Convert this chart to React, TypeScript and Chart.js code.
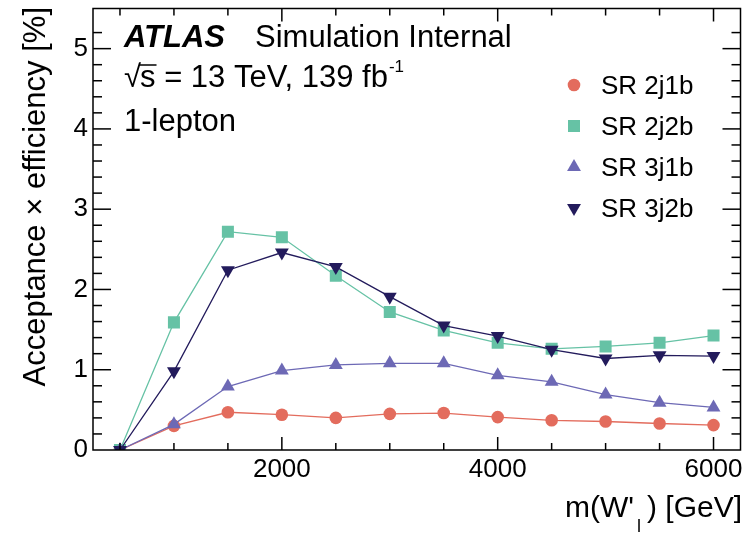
import React, { useEffect, useRef } from "react";
import { Chart, registerables } from "chart.js";

Chart.register(...registerables);

const masses = [500, 1000, 1500, 2000, 2500, 3000, 3500, 4000, 4500, 5000, 5500, 6000];
const sr2j1b = [0.0, 0.3, 0.47, 0.44, 0.4, 0.45, 0.46, 0.41, 0.37, 0.355, 0.33, 0.31];
const sr2j2b = [0.0, 1.59, 2.72, 2.65, 2.17, 1.72, 1.49, 1.335, 1.26, 1.29, 1.335, 1.425];
const sr3j1b = [0.0, 0.32, 0.79, 0.99, 1.06, 1.08, 1.08, 0.93, 0.85, 0.69, 0.59, 0.53];
const sr3j2b = [0.0, 0.98, 2.24, 2.46, 2.28, 1.91, 1.55, 1.42, 1.25, 1.14, 1.18, 1.17];

const seriesNames = ["SR 2j1b", "SR 2j2b", "SR 3j1b", "SR 3j2b"];
const xTickValues = [500, 1000, 1500, 2000, 2500, 3000, 3500, 4000, 4500, 5000, 5500, 6000];
const xTickLabels = [2000, 4000, 6000];
const yTickLabels = [0, 1, 2, 3, 4, 5];

const FAMILY = '"Liberation Sans", Arial, Helvetica, sans-serif';

const COLORS = ["#e36c5d", "#66c2a5", "#6d69b5", "#231b5c"];
const STYLES = ["circle", "rect", "triangle", "triangle"];
const ROTS = [0, 0, 0, 180];
const RADII = [6.3, 8.5, 8, 8];

function txt(ctx: CanvasRenderingContext2D, s: string, x: number, y: number, size: number, opts: any = {}) {
  ctx.save();
  ctx.font = `${opts.bold ? "bold " : ""}${opts.italic ? "italic " : ""}${size}px ${FAMILY}`;
  ctx.textAlign = opts.align || "left";
  ctx.textBaseline = "alphabetic";
  ctx.fillStyle = "#000";
  ctx.translate(x, y);
  if (opts.rot) ctx.rotate(opts.rot);
  ctx.fillText(s, 0, 0);
  ctx.restore();
}

function width(ctx: CanvasRenderingContext2D, s: string, size: number, opts: any = {}) {
  ctx.save();
  ctx.font = `${opts.bold ? "bold " : ""}${opts.italic ? "italic " : ""}${size}px ${FAMILY}`;
  const w = ctx.measureText(s).width;
  ctx.restore();
  return w;
}

function drawMarker(ctx: CanvasRenderingContext2D, i: number, x: number, y: number) {
  ctx.save();
  ctx.fillStyle = COLORS[i];
  const r = RADII[i];
  ctx.beginPath();
  if (STYLES[i] === "circle") {
    ctx.arc(x, y, r, 0, Math.PI * 2);
  } else if (STYLES[i] === "rect") {
    const h = Math.SQRT1_2 * r;
    ctx.rect(x - h, y - h, 2 * h, 2 * h);
  } else {
    const rad = (ROTS[i] * Math.PI) / 180;
    const pts = [0, 120, 240].map((d) => {
      const a = rad + (d * Math.PI) / 180;
      return [x + Math.sin(a) * r, y - Math.cos(a) * r];
    });
    ctx.moveTo(pts[0][0], pts[0][1]);
    ctx.lineTo(pts[1][0], pts[1][1]);
    ctx.lineTo(pts[2][0], pts[2][1]);
    ctx.closePath();
  }
  ctx.fill();
  ctx.restore();
}

const framePlugin = {
  id: "atlasFrame",
  afterDraw(chart: any) {
    const { ctx, chartArea: a, scales } = chart;
    const xs = scales.x;
    const ys = scales.y;
    ctx.save();
    ctx.strokeStyle = "#000";
    ctx.lineWidth = 1.5;
    ctx.strokeRect(a.left, a.top, a.right - a.left, a.bottom - a.top);
    const line = (x1: number, y1: number, x2: number, y2: number) => {
      ctx.beginPath();
      ctx.moveTo(x1, y1);
      ctx.lineTo(x2, y2);
      ctx.stroke();
    };
    for (const t of xs.ticks) {
      const v = t.value;
      if (v <= xs.min || v >= xs.max) continue;
      const px = xs.getPixelForValue(v);
      const len = xTickLabels.includes(v) ? 13 : 7;
      line(px, a.bottom, px, a.bottom - len);
      line(px, a.top, px, a.top + len);
    }
    for (const t of ys.ticks) {
      const v = t.value;
      if (v <= ys.min + 1e-9 || v >= ys.max - 1e-9) continue;
      const py = ys.getPixelForValue(v);
      const major = Math.abs(v - Math.round(v)) < 1e-6;
      const len = major ? 18 : 9;
      line(a.left, py, a.left + len, py);
      line(a.right, py, a.right - len, py);
    }
    ctx.restore();

    // Labels
    txt(ctx, "ATLAS", 124, 47, 31, { bold: true, italic: true });
    txt(ctx, "Simulation Internal", 255, 47, 31);

    const s1 = 31;
    let x = 124;
    txt(ctx, "\u221A", x, 87, s1);
    x += width(ctx, "\u221A", s1) - 1;
    const sw = width(ctx, "s", s1);
    txt(ctx, "s", x, 87, s1);
    ctx.save();
    ctx.strokeStyle = "#000";
    ctx.lineWidth = 1.5;
    ctx.beginPath();
    ctx.moveTo(x - 1, 65);
    ctx.lineTo(x + sw + 1, 65);
    ctx.stroke();
    ctx.restore();
    x += sw;
    const rest = " = 13 TeV, 139 fb";
    txt(ctx, rest, x, 87, s1);
    x += width(ctx, rest, s1);
    txt(ctx, "-1", x + 1, 72, 17);

    txt(ctx, "1-lepton", 124, 131, s1);

    // Legend
    const rows = [85, 126, 167, 208];
    for (let i = 0; i < 4; i++) {
      const cy = rows[i];
      drawMarker(ctx, i, 574, cy);
      txt(ctx, seriesNames[i], 601, cy + 9, 26);
    }

    // Y title
    txt(ctx, "Acceptance \u00D7 efficiency [%]", 45, 7, 31, { align: "right", rot: -Math.PI / 2 });

    // X title: m(W'_l) [GeV]
    const xs2 = 30;
    const tail = ") [GeV]";
    const head = "m(W'";
    const tw = width(ctx, tail, xs2);
    const subw = 13;
    const right = 742;
    txt(ctx, tail, right - tw, 517, xs2);
    txt(ctx, "l", right - tw - subw + 3, 532, 18);
    txt(ctx, head, right - tw - subw, 517, xs2, { align: "right" });
  },
};

export default function App() {
  const ref = useRef<HTMLCanvasElement | null>(null);
  useEffect(() => {
    document.body.style.margin = "0";
    const canvas = ref.current!;
    const series = [sr2j1b, sr2j2b, sr3j1b, sr3j2b];
    const orders = [3, 2, 1, 0];
    const datasets = series.map((vals, i) => ({
      label: seriesNames[i],
      data: masses.map((m, k) => ({ x: m, y: vals[k] })),
      borderColor: COLORS[i],
      backgroundColor: COLORS[i],
      borderWidth: 1.3,
      pointStyle: STYLES[i],
      rotation: ROTS[i],
      pointRadius: RADII[i],
      pointBorderWidth: 0,
      pointBackgroundColor: COLORS[i],
      pointBorderColor: COLORS[i],
      tension: 0,
      order: orders[i],
    }));
    const chart = new Chart(canvas, {
      type: "line",
      data: { datasets } as any,
      options: {
        animation: false,
        responsive: false,
        events: [],
        layout: { padding: { left: 0, right: 8, top: 7, bottom: 0 } },
        plugins: { legend: { display: false }, tooltip: { enabled: false } },
        scales: {
          x: {
            type: "linear",
            min: 250,
            max: 6250,
            grid: { display: false, drawTicks: false },
            border: { display: false },
            afterBuildTicks: (s: any) => {
              s.ticks = xTickValues.map((v) => ({ value: v }));
            },
            ticks: {
              autoSkip: false,
              maxRotation: 0,
              padding: 4,
              color: "#000",
              font: { size: 26, family: FAMILY },
              callback: (v: any) => (xTickLabels.includes(Number(v)) ? String(v) : ""),
            },
            afterFit: (s: any) => {
              s.height = 83;
              s.paddingLeft = 0;
              s.paddingRight = 0;
            },
          },
          y: {
            type: "linear",
            min: 0,
            max: 5.5,
            grid: { display: false, drawTicks: false },
            border: { display: false },
            ticks: {
              stepSize: 0.2,
              autoSkip: false,
              padding: 5,
              color: "#000",
              font: { size: 26, family: FAMILY },
              callback: (v: any) => {
                const n = Number(v);
                const r = Math.round(n);
                return Math.abs(n - r) < 1e-6 && yTickLabels.includes(r) ? String(r) : "";
              },
            },
            afterFit: (s: any) => {
              s.width = 93;
              s.paddingTop = 0;
              s.paddingBottom = 0;
            },
          },
        },
      } as any,
      plugins: [framePlugin],
    });
    return () => chart.destroy();
  }, []);
  return (
    <div style={{ width: 749, height: 533 }}>
      <canvas ref={ref} width={749} height={533} style={{ display: "block" }} />
    </div>
  );
}
